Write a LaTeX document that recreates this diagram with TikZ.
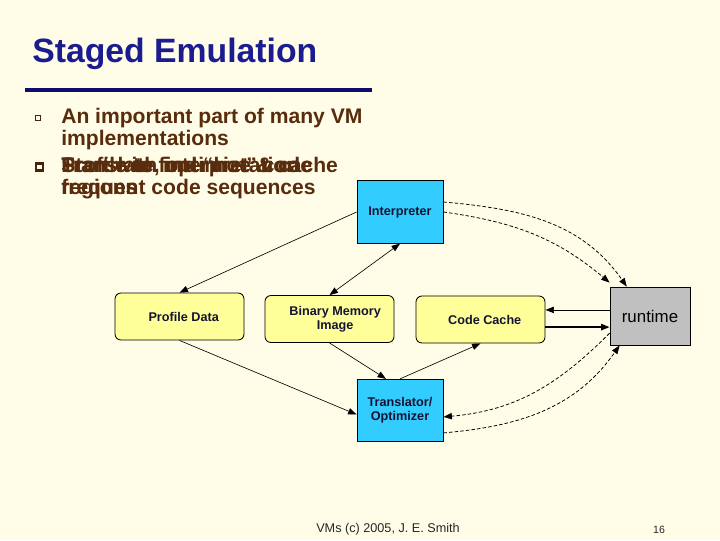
\documentclass[tikz,border=0pt]{standalone}
\usepackage{fontspec}
\setmainfont{Liberation Sans}
\usetikzlibrary{arrows.meta}
\definecolor{slideBg}{RGB}{255, 253, 232}
\definecolor{titleBlue}{RGB}{28, 28, 145}
\definecolor{ruleBlue}{RGB}{12, 12, 110}
\definecolor{bulletBrown}{RGB}{88, 44, 12}
\definecolor{boxCyan}{RGB}{51, 204, 255}
\definecolor{boxYellow}{RGB}{255, 255, 153}
\definecolor{boxGray}{RGB}{192, 192, 192}
\definecolor{boxText}{RGB}{20, 20, 50}

\tikzset{
    bullettext/.style={anchor=base west, inner sep=0pt, text=bulletBrown, font=\fontsize{15}{15}\selectfont\bfseries},
    stagebox/.style={draw, line width=0.6pt, fill=boxCyan, minimum width=2.15cm, minimum height=1.56cm, align=center, text=boxText, font=\fontsize{9}{10}\selectfont\bfseries},
    databox/.style={draw, line width=0.6pt, fill=boxYellow, rounded corners=0.15cm, minimum width=3.225cm, minimum height=1.175cm, align=center, text=boxText, font=\fontsize{9}{10}\selectfont\bfseries},
    arr/.style={-{Triangle[length=6pt,width=4.5pt]}, line width=0.45pt},
    dasharr/.style={arr, line width=0.55pt, dash pattern=on 2.5pt off 1.5pt}
}

\begin{document}
\begin{tikzpicture}[x=0.025cm, y=-0.025cm]
\useasboundingbox (0,0) rectangle (720,540);
\fill[slideBg] (0,0) rectangle (720,540);

% Title and rule
\node[anchor=base west, inner sep=0pt, text=titleBlue, font=\fontsize{24}{24}\selectfont\bfseries] (title) at (32,62) {Staged Emulation};
\draw[ruleBlue, line width=2.8pt] (25,90) -- (372,90);

% Bullets
\draw[bulletBrown!80!black, line width=0.9pt] (35.5,115.5) rectangle (40.5,120.5);
\draw[bulletBrown!80!black, line width=1.6pt] (36,163.5) rectangle (43,170.5);
\node[bullettext] (b1a) at (61,123.5) {An important part of many VM};
\node[bullettext] (b1b) at (61,145) {implementations};
\foreach \n/\text in {s/Start with interpretation, p/Profile to find “hot” code, t/{Translate, optimize \& cache}} {
    \node[bullettext] (b2\n) at (61,172) {\text};
}
\node[bullettext] (b2r) at (61,194) {regions};
\node[bullettext] (b2f) at (61,194) {frequent code sequences};

% Boxes
\node[stagebox] (interp) at (400,212) {Interpreter};
\node[stagebox] (trans) at (400,410.5) {Translator/\\Optimizer};
\node[databox] (prof) at (179.5,316.5) {\hspace{6pt}Profile Data};
\node[databox] (bin) at (329.5,319) {\hspace{8pt}Binary Memory\\\hspace{8pt}Image};
\node[databox] (cc) at (480.5,319.5) {\hspace{6pt}Code Cache};
\node[draw, line width=0.6pt, fill=boxGray, minimum width=2cm, minimum height=1.45cm, font=\fontsize{12}{12}\selectfont, text=black] (rt) at (650,316) {runtime};

% Solid connectors
\draw[arr] (interp.west) -- (prof.north);
\draw[arr, {Triangle[length=6pt,width=4.5pt]}-{Triangle[length=6pt,width=4.5pt]}] (bin.north) -- (interp.south);
\draw[arr] (prof.south) -- ([yshift=-0.1cm]trans.west);
\draw[arr] (bin.south) -- ([xshift=-0.35cm]trans.north);
\draw[arr] (trans.north) -- (cc.south);
\coordinate (ccu) at ([yshift=0.24cm]cc.east);
\coordinate (ccl) at ([yshift=-0.19cm]cc.east);
\draw[arr] (rt.west |- ccu) -- (ccu);
\draw[arr, line width=1.1pt] (ccl) -- (rt.west |- ccl);

% Dashed connectors
\draw[dasharr] ([yshift=0.25cm]interp.east) to[out=-5, in=125] ([xshift=0.43cm]rt.north west);
\draw[dasharr] (interp.east) to[out=-8, in=140] ([yshift=0.1cm]rt.north west);
\draw[dasharr] ([yshift=-0.43cm]rt.west) to[out=-135, in=5] ([yshift=-0.16cm]trans.east);
\draw[dasharr] ([yshift=-0.56cm]trans.east) to[out=5, in=-125] ([xshift=0.25cm]rt.south west);

% Footer
\node[anchor=base, inner sep=0pt, font=\fontsize{9}{9}\selectfont, text=black!85] (foot) at (388,532.5) {VMs (c) 2005, J. E. Smith};
\node[anchor=base, inner sep=0pt, font=\fontsize{7.5}{8}\selectfont, text=black!85] (page) at (659,533) {16};
\end{tikzpicture}
\end{document}
